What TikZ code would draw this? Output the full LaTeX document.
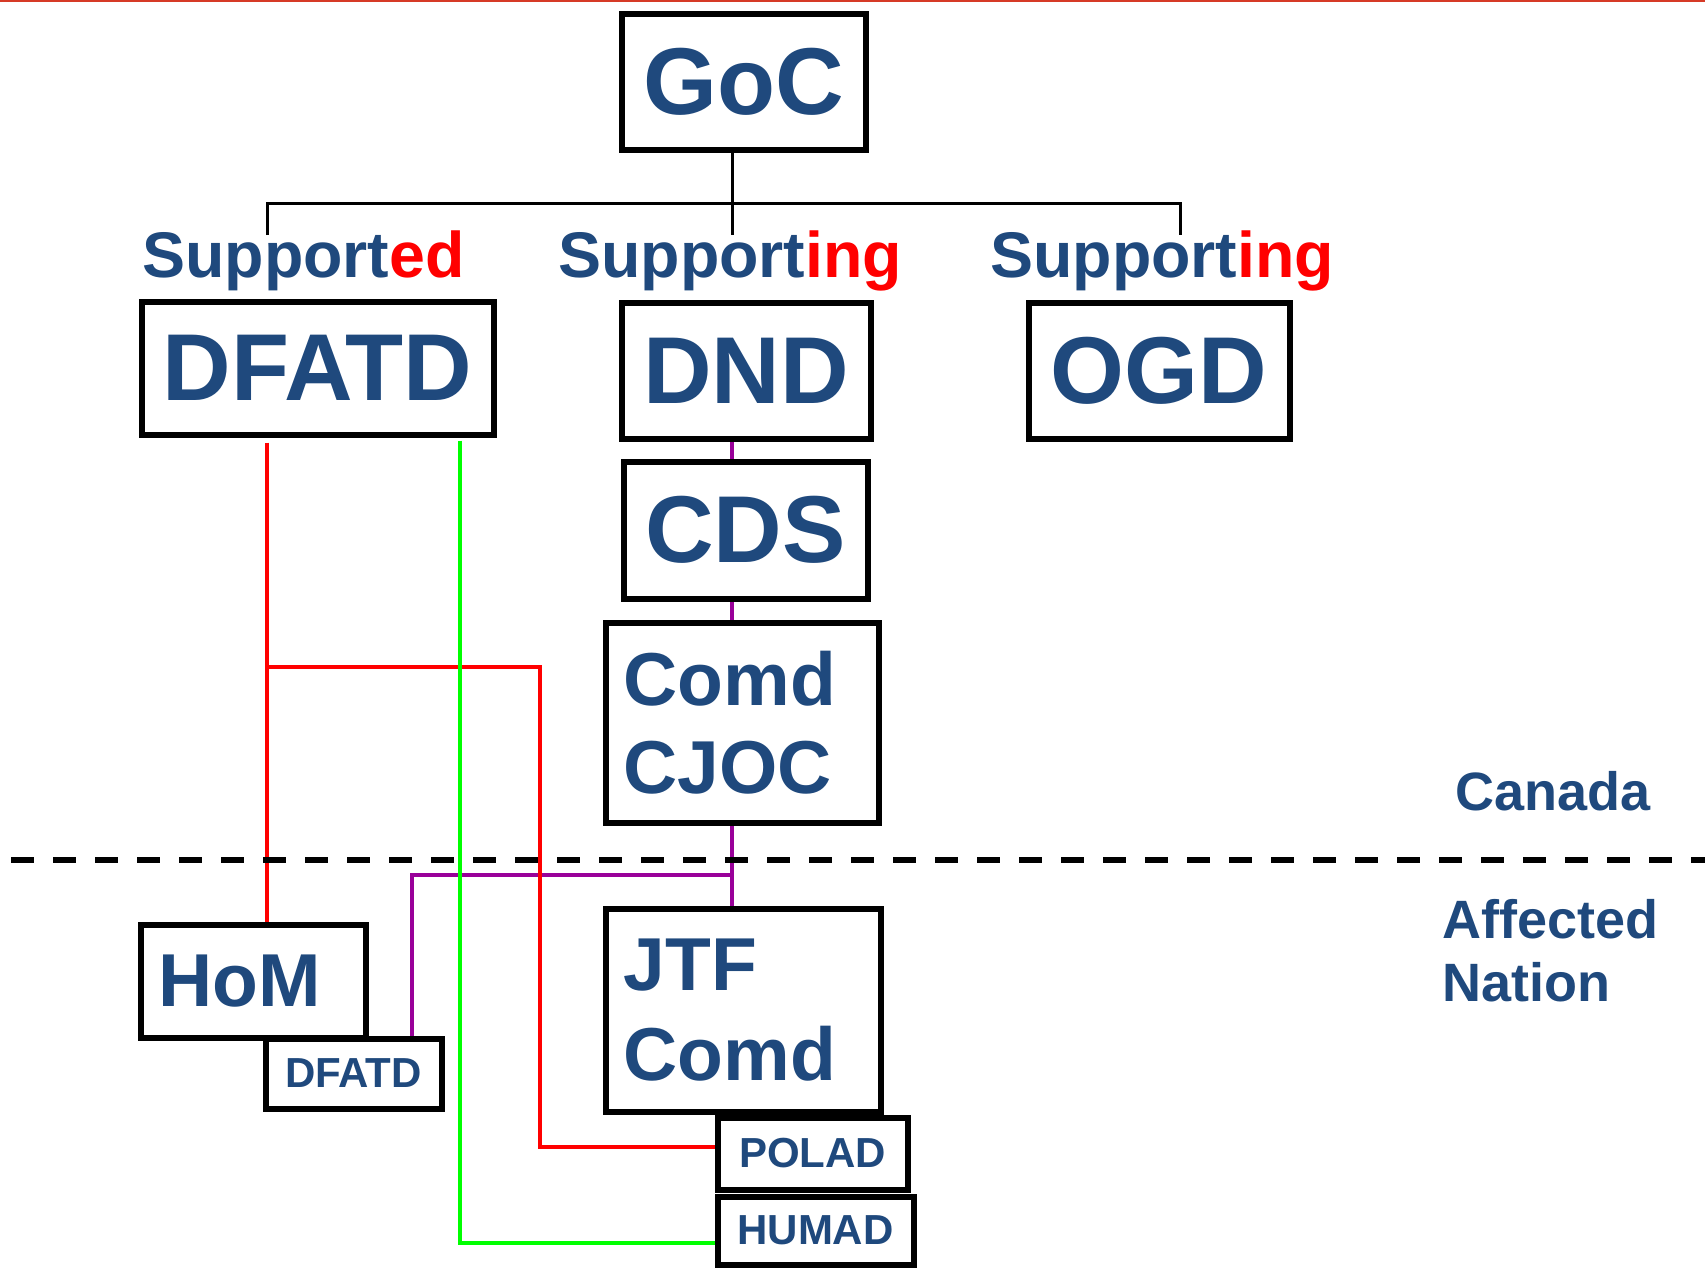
\documentclass[tikz,border=0pt]{standalone}
\usepackage{fontspec}
\setmainfont{Liberation Sans}
\usetikzlibrary{backgrounds}

\definecolor{navy}{RGB}{31,73,125}
\definecolor{topred}{RGB}{214,58,38}
\definecolor{advpurple}{RGB}{153,0,153}

\tikzset{
  unit/.style={draw, line width=6pt, fill=white, inner sep=0pt, text=navy,
    font=\bfseries\fontsize{95}{95}\selectfont},
  subunit/.style={unit, font=\bfseries\fontsize{42}{42}\selectfont},
  cmdunit/.style={unit, align=left, inner xsep=18pt, inner ysep=0pt,
    font=\bfseries\fontsize{75}{88}\selectfont},
  role/.style={anchor=base west, inner sep=0pt, text=navy,
    font=\bfseries\fontsize{64.5}{64.5}\selectfont},
  region/.style={anchor=base west, inner sep=0pt, text=navy, align=left,
    font=\bfseries\fontsize{54}{63}\selectfont},
  tree/.style={line width=3pt},
  link/.style={line width=3.3pt},
}

\begin{document}
\begin{tikzpicture}[x=1pt,y=-1pt]
  \useasboundingbox (0,0) rectangle (1705,1269);
  \draw[topred, line width=2pt] (0,1) -- (1705,1);

  % Canada
  \node[unit, minimum width=244pt, minimum height=136pt] (goc) at (743.5,81.5) {GoC};
  \node[role] (supd) at (142,277) {Support\textcolor{red}{ed}};
  \node[role] (supg) at (558,277) {Support\textcolor{red}{ing}};
  \node[role] (supo) at (990,277) {Support\textcolor{red}{ing}};
  \node[unit, minimum width=352pt, minimum height=133pt] (dfatd) at (317.5,368) {DFATD};
  \node[unit, minimum width=249pt, minimum height=136pt] (dnd) at (746,370.5) {DND};
  \node[unit, minimum width=261pt, minimum height=136pt] (ogd) at (1159,370.5) {OGD};
  \node[unit, minimum width=244pt, minimum height=137pt] (cds) at (745.5,530) {CDS};
  \node[cmdunit, text width=237pt, minimum height=200pt] (cjoc) at (742,722.5) {Comd\\CJOC};

  \draw[line width=5.5pt, dash pattern=on 23pt off 19pt] (11,860) -- (1705,860);
  \node[region] (canada) at (1455,810) {Canada};
  \node[region, text width=240pt] (affected) at (1442,938) {Affected\\Nation};

  % affected nation
  \node[cmdunit, text width=189pt, minimum height=113pt] (hom) at (253,981) {HoM};
  \node[subunit, minimum width=176pt, minimum height=70pt] (dfatds) at (353.5,1073.5) {DFATD};
  \node[cmdunit, text width=239pt, minimum height=203pt, font=\bfseries\fontsize{75}{90}\selectfont] (jtf) at (743,1010) {JTF\\Comd};
  \node[subunit, minimum width=190pt, minimum height=72pt] (polad) at (812.5,1153.5) {POLAD};
  \node[subunit, minimum width=196pt, minimum height=68pt] (humad) at (815.5,1230.5) {HUMAD};

  \coordinate (fork) at (732,203);
  \coordinate (dropL) at (267,235);
  \coordinate (dropM) at (732,235);
  \coordinate (dropR) at (1180,235);
  \coordinate (spine) at (732,875);
  \coordinate (advturn) at (412,875);
  \coordinate (redfork) at (267,667);
  \coordinate (polturn) at (540,1147);
  \coordinate (humturn) at (460,1243);

  \begin{scope}[on background layer]
    \draw[tree] (goc.south -| dropM) -- (dropM);
    \draw[tree] (dropL) |- (fork) -| (dropR);
    \draw[link, advpurple] (dnd.south -| spine) -- (cds.north -| spine);
    \draw[link, advpurple] (cds.south -| spine) -- (cjoc.north -| spine);
    \draw[link, advpurple] (cjoc.south -| spine) -- (jtf.north -| spine);
    \draw[link, advpurple] (spine) -- (advturn) -- (dfatds.north -| advturn);
    \draw[link, red, shorten <=5pt] (dfatd.south -| redfork) -- (hom.north -| redfork);
    \draw[link, red] (redfork) -| (polturn) -- (polad.west |- polturn);
    \draw[link, green, shorten <=3pt] (dfatd.south -| humturn) -- (humturn) -- (humad.west |- humturn);
  \end{scope}
\end{tikzpicture}
\end{document}
